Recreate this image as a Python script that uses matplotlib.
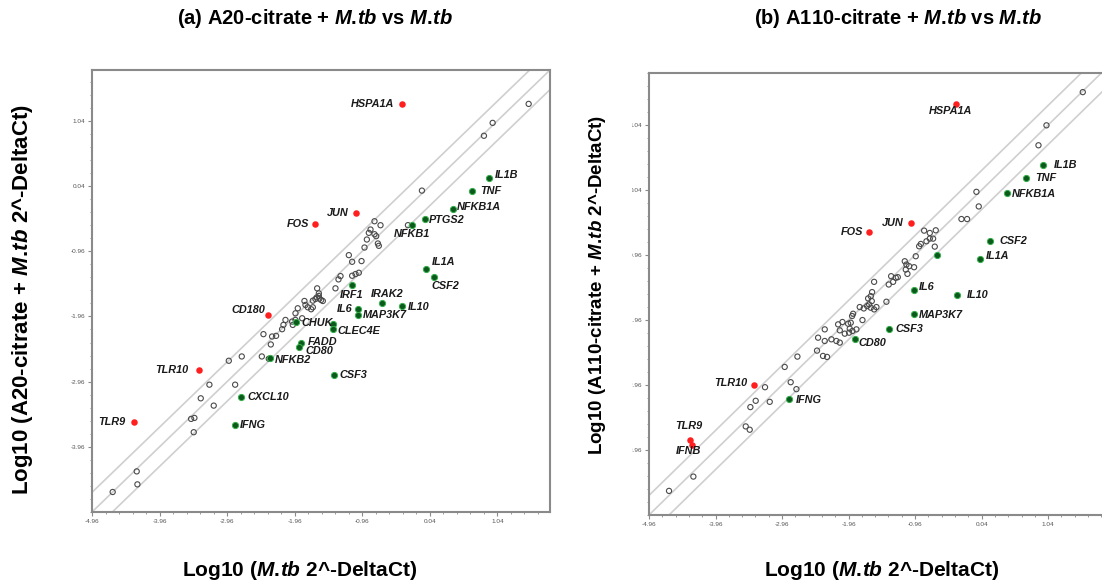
import matplotlib
matplotlib.use("Agg")
import matplotlib.pyplot as plt
import numpy as np
from matplotlib.transforms import Bbox, TransformedBbox

plt.rcParams["font.family"] = ["Liberation Sans", "DejaVu Sans"]
plt.rcParams["mathtext.fontset"] = "custom"
plt.rcParams["mathtext.it"] = "Liberation Sans:italic:bold"
plt.rcParams["mathtext.rm"] = "Liberation Sans:bold"
plt.rcParams["mathtext.bf"] = "Liberation Sans:bold"

# ---------------- data: (a) A20-citrate + M.tb vs M.tb ----------------
A_RED_GENES = ["HSPA1A", "JUN", "FOS", "CD180", "TLR10", "TLR9"]
A_RED_X = [-0.377, -1.049, -1.656, -2.358, -3.380, -4.333]
A_RED_Y = [1.300, -0.377, -0.545, -1.937, -2.788, -3.573]

A_GREEN_GENES = ["IL1B", "TNF", "NFKB1A", "PTGS2", "NFKB1", "IL1A", "CSF2", "IRF1",
                 "IRAK2", "IL10", "IL6", "MAP3K7", "CHUK", "", "CLEC4E", "FADD",
                 "CD80", "NFKB2", "CSF3", "CXCL10", "IFNG"]
A_GREEN_X = [0.912, 0.665, 0.378, -0.027, -0.224, -0.022, 0.102, -1.108,
             -0.669, -0.377, -1.019, -1.019, -1.938, -1.395, -1.395, -1.869,
             -1.898, -2.318, -1.375, -2.753, -2.846]
A_GREEN_Y = [0.158, -0.030, -0.306, -0.469, -0.550, -1.238, -1.361, -1.478,
             -1.748, -1.799, -1.840, -1.942, -2.049, -2.079, -2.151, -2.360,
             -2.430, -2.604, -2.864, -3.201, -3.629]

A_OPEN_X = [1.504, 0.971, 0.842, -0.076, -0.283,
            -0.778, -0.689, -0.837, -0.862, -0.778, -0.753, -0.891, -0.728, -0.714, -0.926,
            -1.158, -1.109, -0.970, -1.010, -1.059, -1.109, -1.281, -1.311, -1.356, -1.627,
            -1.602, -1.602, -1.632, -1.652, -1.593, -1.568, -1.543, -1.691, -1.815, -1.800,
            -1.765, -1.691, -1.716, -1.914, -1.948, -2.096, -2.126, -1.998, -1.988, -1.948,
            -1.849, -2.146, -2.235, -2.294,
            -2.422, -2.313, -2.446, -2.343, -2.743, -2.935, -2.841, -3.222, -3.350, -3.158,
            -3.444, -3.493, -3.454, -4.298, -4.288, -4.654]
A_OPEN_Y = [1.300, 1.009, 0.811, -0.030, -0.560,
            -0.500, -0.561, -0.627, -0.678, -0.699, -0.729, -0.780, -0.841, -0.877, -0.903,
            -1.020, -1.122, -1.111, -1.290, -1.310, -1.336, -1.341, -1.392, -1.529, -1.529,
            -1.606, -1.647, -1.667, -1.693, -1.687, -1.708, -1.723, -1.718, -1.723, -1.784,
            -1.820, -1.820, -1.850, -1.835, -1.912, -2.014, -2.090, -2.039, -2.090, -2.014,
            -1.988, -2.156, -2.258, -2.268,
            -2.232, -2.390, -2.574, -2.609, -2.574, -2.640, -3.007, -3.007, -3.216, -3.328,
            -3.517, -3.532, -3.736, -4.337, -4.536, -4.653]

# ---------------- data: (b) A110-citrate + M.tb vs M.tb ----------------
B_RED_GENES = ["HSPA1A", "JUN", "FOS", "TLR10", "TLR9", "IFNB"]
B_RED_X = [-0.343, -1.020, -1.652, -3.381, -4.343, -4.318]
B_RED_Y = [1.357, -0.463, -0.601, -2.958, -3.807, -3.878]

B_GREEN_GENES = ["IL1B", "TNF", "NFKB1A", "CSF2", "IL1A", "", "IL6", "IL10",
                 "MAP3K7", "CSF3", "CD80", "IFNG"]
B_GREEN_X = [0.960, 0.704, 0.418, 0.173, 0.012, -0.624, -0.980, -0.333,
             -0.980, -1.356, -1.857, -2.850]
B_GREEN_Y = [0.432, 0.222, -0.008, -0.744, -1.020, -0.954, -1.501, -1.572,
             -1.874, -2.099, -2.258, -3.168]

B_OPEN_X = [1.561, 1.015, 0.895, -0.038, -0.003, -0.263, -0.178,
            -0.824, -0.739, -0.649, -0.689, -0.739, -0.789, -0.874, -0.899, -0.664, -0.950,
            -1.115, -1.090, -1.050, -0.975, -1.100, -1.075, -1.220, -1.250, -1.320, -1.356,
            -1.290, -1.391, -1.576, -1.606, -1.626, -1.666, -1.611, -1.651, -1.626, -1.681,
            -1.792, -1.731, -1.541, -1.576, -1.892, -1.907, -1.751, -1.927, -1.967, -2.052,
            -1.942, -1.902, -1.952, -2.017, -2.117, -1.842, -2.092, -2.218, -2.143, -2.318,
            -2.418, -2.318, -2.092,
            -2.729, -2.920, -2.434, -2.344, -2.283, -2.830, -3.216, -2.744, -3.356, -3.436,
            -3.145, -3.506, -3.446, -4.293, -4.659]
B_OPEN_Y = [1.546, 1.035, 0.728, 0.012, -0.213, -0.407, -0.407,
            -0.585, -0.621, -0.580, -0.708, -0.708, -0.749, -0.790, -0.826, -0.831, -0.979,
            -1.056, -1.107, -1.132, -1.148, -1.184, -1.250, -1.301, -1.311, -1.286, -1.414,
            -1.373, -1.679, -1.373, -1.531, -1.593, -1.628, -1.669, -1.720, -1.771, -1.746,
            -1.761, -1.782, -1.761, -1.797, -1.864, -1.899, -1.961, -2.002, -2.017, -1.991,
            -2.094, -2.129, -2.155, -2.170, -2.027, -2.104, -2.119, -2.257, -2.283, -2.104,
            -2.232, -2.283, -2.308,
            -2.523, -2.682, -2.431, -2.513, -2.528, -2.917, -2.994, -3.024, -3.203, -3.300,
            -3.219, -3.597, -3.648, -4.369, -4.589]

X_TICKS = [-4.96, -3.96, -2.96, -1.96, -0.96, 0.04, 1.04]
Y_TICKS = [-3.96, -2.96, -1.96, -0.96, 0.04, 1.04]
FOLD = np.log10(2)

# label offsets in pixels (dx, dy, ha)
A_OFFSETS = {
    "HSPA1A": (-7, 0, "right"), "JUN": (-8, 0, "right"), "FOS": (-6, 0, "right"),
    "CD180": (-3, 5, "right"), "TLR10": (-10, 0, "right"), "TLR9": (-9, 0, "right"),
    "IL1B": (6, 3, "left"), "TNF": (8, 0, "left"), "NFKB1A": (4, 2, "left"),
    "PTGS2": (4, -1, "left"), "NFKB1": (0, -9, "center"), "IL1A": (6, 7, "left"),
    "CSF2": (-2, -9, "left"), "IRF1": (-1, -10, "center"), "IRAK2": (5, 9, "center"),
    "IL10": (6, -1, "left"), "IL6": (-6, 0, "right"), "MAP3K7": (5, 0, "left"),
    "CHUK": (5, -1, "left"), "CLEC4E": (5, -2, "left"), "FADD": (7, 1, "left"),
    "CD80": (7, -4, "left"), "NFKB2": (4, -2, "left"), "CSF3": (5, 0, "left"),
    "CXCL10": (6, 0, "left"), "IFNG": (5, 0, "left"),
}
B_OFFSETS = {
    "HSPA1A": (-6, -7, "center"), "JUN": (-7, 0, "right"), "FOS": (-6, 0, "right"),
    "TLR10": (-7, 2, "right"), "TLR9": (-1, 14, "center"), "IFNB": (-3, -6, "center"),
    "IL1B": (11, 0, "left"), "TNF": (9, 0, "left"), "NFKB1A": (5, -1, "left"),
    "CSF2": (9, 0, "left"), "IL1A": (6, 3, "left"), "IL6": (5, 3, "left"),
    "IL10": (10, 0, "left"), "MAP3K7": (5, -1, "left"), "CSF3": (7, 0, "left"),
    "CD80": (3, -4, "left"), "IFNG": (6, -1, "left"),
}

RED = "#ff1f1f"
GREEN = "#0b5a1c"
GREEN_EDGE = "#35b04a"
SPINE = "#8a8a8a"
DIAG = "#cfcfcf"

W, H = 1102, 586
fig = plt.figure(figsize=(W / 100, H / 100), dpi=100)
fig.patch.set_facecolor("white")


def px_axes(left, top, right, bottom):
    return fig.add_axes([left / W, 1 - bottom / H, (right - left) / W, (bottom - top) / H])


def panel(ax, xmax, ymax, open_x, open_y, red_g, red_x, red_y, grn_g, grn_x, grn_y, offsets):
    lo = -4.96
    ax.set_xlim(lo, xmax)
    ax.set_ylim(lo, ymax)
    line = np.array([-6, 3])
    for d in (FOLD, 0, -FOLD):
        ax.plot(line, line + d, color=DIAG, lw=1.2, zorder=1)
    ax.scatter(open_x, open_y, s=14, facecolor="none", edgecolor="#4a4a4a",
               linewidth=0.8, zorder=3)
    ax.scatter(red_x, red_y, s=22, color=RED, linewidth=0, zorder=4)
    ax.scatter(grn_x, grn_y, s=20, facecolor=GREEN, edgecolor=GREEN_EDGE,
               linewidth=0.7, zorder=4)
    for g, x, y in list(zip(red_g, red_x, red_y)) + list(zip(grn_g, grn_x, grn_y)):
        if not g:
            continue
        dx, dy, ha = offsets[g]
        ax.annotate(g, (x, y), xytext=(dx, dy), textcoords="offset pixels",
                    ha=ha, va="center", fontsize=7.8, style="italic",
                    weight="bold", color="#1a1a1a", zorder=5)
    ax.set_xticks(X_TICKS)
    ax.set_yticks(Y_TICKS)
    minor = np.arange(lo, xmax, 0.2)
    ax.set_xticks(minor, minor=True)
    ax.set_yticks(minor, minor=True)
    ax.set_xticklabels([f"{t:.2f}" for t in X_TICKS])
    ax.set_yticklabels([f"{t:.2f}" for t in Y_TICKS])
    ax.tick_params(which="major", length=3, width=0.8, color=SPINE,
                   labelsize=4.6, labelcolor="#555555", pad=2)
    ax.tick_params(which="minor", length=1.6, width=0.6, color=SPINE)
    for s in ax.spines.values():
        s.set_color(SPINE)
        s.set_linewidth(1.5)


ax1 = px_axes(92, 70, 550, 512)
panel(ax1, 1.82, 1.82, A_OPEN_X, A_OPEN_Y, A_RED_GENES, A_RED_X, A_RED_Y,
      A_GREEN_GENES, A_GREEN_X, A_GREEN_Y, A_OFFSETS)

ax2 = px_axes(649, 73, 1102, 515)
panel(ax2, 1.85, 1.84, B_OPEN_X, B_OPEN_Y, B_RED_GENES, B_RED_X, B_RED_Y,
      B_GREEN_GENES, B_GREEN_X, B_GREEN_Y, B_OFFSETS)
ax2.spines["right"].set_visible(False)

# panel (b) tick labels are cut off on their left side in the source figure
clip = TransformedBbox(Bbox.from_extents(632 / W, 0, 1, 1), fig.transFigure)
for lab in ax2.get_yticklabels():
    lab.set_clip_box(clip)
    lab.set_clip_on(True)

MTB = r"$\mathit{M.\!tb}$"
fig.text(315 / W, 1 - 18 / H, f"(a) A20-citrate + {MTB} vs {MTB}",
         ha="center", va="center", fontsize=14.5, weight="bold")
fig.text(898 / W, 1 - 18 / H, f"(b) A110-citrate + {MTB} vs {MTB}",
         ha="center", va="center", fontsize=14.5, weight="bold")
fig.text(300 / W, 1 - 571 / H, f"Log10 ({MTB} 2^-DeltaCt)",
         ha="center", va="center", fontsize=15, weight="bold")
fig.text(882 / W, 1 - 571 / H, f"Log10 ({MTB} 2^-DeltaCt)",
         ha="center", va="center", fontsize=15, weight="bold")
fig.text(23 / W, 1 - 300 / H, f"Log10 (A20-citrate + {MTB} 2^-DeltaCt)",
         ha="center", va="center", rotation=90, fontsize=16, weight="bold")
fig.text(598 / W, 1 - 285 / H, f"Log10 (A110-citrate + {MTB} 2^-DeltaCt)",
         ha="center", va="center", rotation=90, fontsize=13.5, weight="bold")

fig.savefig("out.png", dpi=100, facecolor="white")
